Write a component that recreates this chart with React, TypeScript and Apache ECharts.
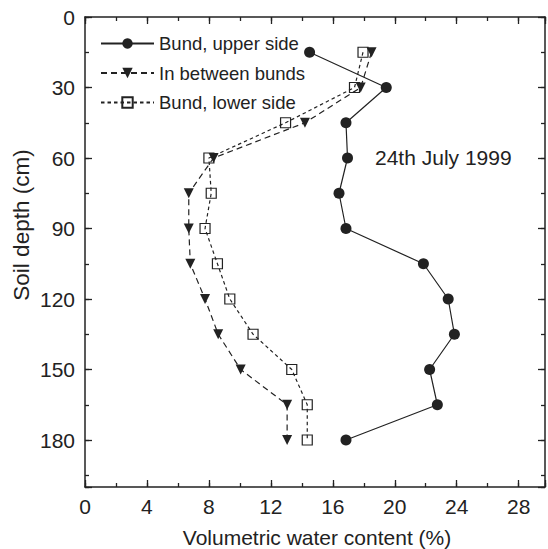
import { useEffect, useRef } from 'react';
import * as echarts from 'echarts';

const depths = [15, 30, 45, 60, 75, 90, 105, 120, 135, 150, 165, 180];
const upperSide = [14.5, 19.45, 16.85, 16.95, 16.4, 16.85, 21.85, 23.45, 23.85, 22.25, 22.75, 16.85];
const inBetween = [18.5, 17.8, 14.2, 8.3, 6.7, 6.7, 6.8, 7.75, 8.6, 10.05, 13.05, 13.05];
const lowerSide = [17.95, 17.4, 12.95, 8.0, 8.15, 7.75, 8.55, 9.35, 10.85, 13.35, 14.35, 14.35];
const seriesNames = ['Bund, upper side', 'In between bunds', 'Bund, lower side'];
const annotation = '24th July 1999';
const xTitle = 'Volumetric water content (%)';
const yTitle = 'Soil depth (cm)';

const FONT = '"Liberation Sans", Arial, Helvetica, sans-serif';
const INK = '#222';

function xAxisDef(position: 'top' | 'bottom', interval: number, len: number, labels: boolean, line: boolean) {
  return {
    type: 'value',
    position,
    min: 0,
    max: 29.7,
    interval,
    axisLine: { show: line, onZero: false, lineStyle: { color: INK, width: 1.5 } },
    axisTick: { show: true, inside: true, length: len, lineStyle: { color: INK, width: 1.3 } },
    axisLabel: {
      show: labels,
      margin: 9,
      fontSize: 21,
      fontFamily: FONT,
      color: INK,
      formatter: (v: number) => (Math.abs(v % 4) < 1e-6 ? String(v) : ''),
    },
    splitLine: { show: false },
  };
}

function yAxisDef(position: 'left' | 'right', interval: number, len: number, labels: boolean, line: boolean) {
  return {
    type: 'value',
    position,
    inverse: true,
    min: 0,
    max: 200,
    interval,
    axisLine: { show: line, onZero: false, lineStyle: { color: INK, width: 1.5 } },
    axisTick: { show: true, inside: true, length: len, lineStyle: { color: INK, width: 1.3 } },
    axisLabel: {
      show: labels,
      margin: 10,
      fontSize: 21,
      fontFamily: FONT,
      color: INK,
      formatter: (v: number) => (Math.abs(v % 30) < 1e-6 ? String(v) : ''),
    },
    splitLine: { show: false },
  };
}

export default function App() {
  const ref = useRef<HTMLDivElement>(null);
  useEffect(() => {
    if (!ref.current) return;
    const chart = echarts.init(ref.current, undefined, { renderer: 'svg' });
    const mk = (xs: number[]) => xs.map((x, i) => [x, depths[i]]);
    chart.setOption({
      animation: false,
      backgroundColor: '#fff',
      grid: { left: 85, right: 0, top: 17, bottom: 62 },
      xAxis: [
        xAxisDef('bottom', 4, 7, true, true),
        xAxisDef('bottom', 2, 4, false, false),
        xAxisDef('top', 4, 7, false, true),
        xAxisDef('top', 2, 4, false, false),
      ],
      yAxis: [
        yAxisDef('left', 30, 7, true, true),
        yAxisDef('left', 15, 4, false, false),
        yAxisDef('right', 30, 7, false, true),
        yAxisDef('right', 15, 4, false, false),
      ],
      legend: {
        orient: 'vertical',
        left: 100,
        top: 34,
        padding: 0,
        itemWidth: 53,
        itemHeight: 13,
        itemGap: 10.5,
        textStyle: { fontSize: 18.5, fontFamily: FONT, color: INK },
        data: seriesNames,
      },
      series: [
        {
          name: seriesNames[0],
          type: 'line',
          data: mk(upperSide),
          symbol: 'circle',
          symbolSize: 11,
          lineStyle: { color: INK, width: 1.2, type: 'solid' },
          itemStyle: { color: INK },
        },
        {
          name: seriesNames[1],
          type: 'line',
          data: mk(inBetween),
          symbol: 'triangle',
          symbolRotate: 180,
          symbolSize: 10,
          lineStyle: { color: INK, width: 1.2, type: [6, 4] },
          itemStyle: { color: INK },
        },
        {
          name: seriesNames[2],
          type: 'line',
          data: mk(lowerSide),
          symbol: 'rect',
          symbolSize: 10,
          lineStyle: { color: INK, width: 1.2, type: [3.5, 3] },
          itemStyle: { color: 'rgba(255,255,255,0)', borderColor: INK, borderWidth: 1.2 },
        },
      ],
      graphic: [
        {
          type: 'text',
          left: 375,
          top: 147,
          style: { text: annotation, fontSize: 21, fontFamily: FONT, fill: INK },
        },
        {
          type: 'text',
          x: 21,
          y: 225,
          rotation: Math.PI / 2,
          style: { text: yTitle, fontSize: 22.5, fontFamily: FONT, fill: INK, align: 'center', verticalAlign: 'middle' },
        },
        {
          type: 'text',
          x: 317,
          y: 537,
          style: { text: xTitle, fontSize: 21, fontFamily: FONT, fill: INK, align: 'center', verticalAlign: 'middle' },
        },
      ],
    });
    return () => chart.dispose();
  }, []);
  return <div ref={ref} style={{ position: 'fixed', left: 0, top: 0, width: 548, height: 549 }} />;
}
